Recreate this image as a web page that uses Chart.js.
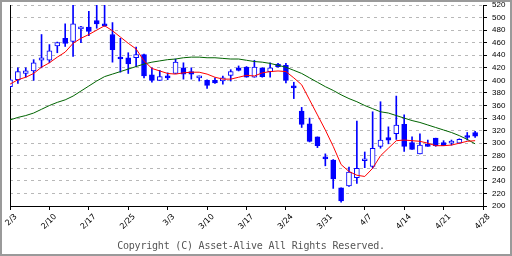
<!DOCTYPE html>
<html>
<head>
<meta charset="utf-8">
<script src="https://cdn.jsdelivr.net/npm/chart.js@4.4.1/dist/chart.umd.min.js"></script>
<style>
  html, body { margin: 0; padding: 0; background: #fff; }
  #wrap { position: relative; width: 512px; height: 256px; }
  #frame { position: absolute; left: 0; top: 0; width: 512px; height: 256px; box-sizing: border-box; border: 2px solid #9a9a9a; pointer-events: none; }
  #copy { position: absolute; left: 0; width: 502px; top: 240px; line-height: 12px; text-align: center; font: 10px "DejaVu Sans Mono", monospace; letter-spacing: -0.2px; color: #555; }
</style>
</head>
<body>
<div id="wrap">
  <canvas id="chart" width="512" height="256"></canvas>
  <div id="copy">Copyright (C) Asset-Alive All Rights Reserved.</div>
  <div id="frame"></div>
</div>
<script>
'use strict';

// weekly tick labels (one every 5 trading days)
const weekLabels = ['2/3', '2/10', '2/17', '2/25', '3/3', '3/10', '3/17', '3/24', '3/31', '4/7', '4/14', '4/21', '4/28'];

const opens = [
  390, 401, 411, 415, 432, 432, 455, 467, 462, 482,
  485, 495, 490, 473, 435, 436, 436, 441, 409, 400,
  407, 411, 420, 414, 404, 400, 400, 399, 408, 420,
  421, 405, 420, 414, 426, 424, 389, 351, 331, 310,
  276, 273, 229, 232, 245, 272, 263, 295, 309, 315,
  330, 301, 283, 297, 308, 301, 300, 300, 312, 317
];
const highs = [
  402, 420, 420, 433, 473, 457, 461, 490, 520, 486,
  510, 520, 520, 492, 467, 444, 453, 442, 420, 416,
  412, 434, 428, 420, 407, 401, 404, 407, 417, 423,
  422, 432, 420, 428, 427, 427, 397, 357, 340, 310,
  283, 274, 229, 262, 335, 286, 350, 366, 326, 375,
  345, 310, 315, 305, 308, 304, 305, 307, 317, 319
];
const lows = [
  388, 395, 405, 400, 420, 428, 444, 454, 438, 460,
  471, 483, 486, 429, 413, 411, 422, 404, 397, 400,
  401, 411, 402, 402, 399, 387, 395, 394, 399, 415,
  405, 405, 405, 405, 421, 396, 371, 325, 302, 293,
  264, 228, 206, 231, 236, 261, 260, 292, 299, 306,
  287, 290, 283, 295, 295, 296, 297, 300, 305, 309
];
const closes = [
  401, 414, 415, 428, 436, 447, 460, 459, 490, 485,
  478, 490, 487, 449, 434, 426, 441, 407, 400, 406,
  404, 429, 410, 410, 404, 392, 396, 404, 414, 416,
  405, 421, 406, 420, 422, 400, 388, 330, 303, 296,
  275, 243, 208, 254, 260, 273, 292, 305, 305, 329,
  295, 290, 297, 295, 296, 296, 300, 306, 309, 311
];

// moving averages
const shortAvg = [
  394, 401, 405, 411, 421, 428, 437, 445, 459, 467,
  473, 480, 487, 479, 469, 459, 450, 431, 419, 415,
  411, 410, 412, 413, 413, 410, 405, 402, 402, 405,
  408, 407, 412, 414, 415, 414, 404, 393, 369, 345,
  321, 295, 266, 255, 249, 247, 260, 280, 292, 304,
  305, 304, 303, 300, 296, 296, 297, 300, 303, 304
];
const longAvg = [
  337, 341, 344, 348, 354, 360, 365, 369, 375, 383,
  391, 399, 406, 410, 414, 418, 422, 426, 429, 431,
  433, 434, 436, 437, 437, 436, 436, 435, 434, 434,
  432, 430, 429, 427, 424, 421, 416, 411, 404, 397,
  390, 384, 377, 371, 366, 360, 355, 350, 348, 344,
  340, 336, 333, 329, 325, 321, 317, 312, 306, 299
];

const BLUE = '#0000ff';
const slotCount = (weekLabels.length - 1) * 5 + 1;
const slots = [];
for (let i = 0; i < slotCount; i++) slots.push(String(i));

const bodies = opens.map((o, i) => [o, closes[i]]);
const wicks = lows.map((l, i) => [l, highs[i]]);
const bodyFill = opens.map((o, i) => (closes[i] >= o ? '#ffffff' : BLUE));

const weekTick = ctx => (ctx.index % 5 === 0 ? '#000' : 'rgba(0,0,0,0)');

const ctx = document.getElementById('chart').getContext('2d');
const chart = new Chart(ctx, {
  type: 'bar',
  data: {
    labels: slots,
    datasets: [
      {
        type: 'line',
        data: shortAvg,
        borderColor: '#ff0000',
        borderWidth: 1,
        pointRadius: 0,
        tension: 0,
        yAxisID: 'y',
        order: 0,
      },
      {
        type: 'line',
        data: longAvg,
        borderColor: '#006400',
        borderWidth: 1,
        pointRadius: 0,
        tension: 0,
        yAxisID: 'y',
        order: 1,
      },
      {
        data: bodies,
        backgroundColor: bodyFill,
        borderColor: BLUE,
        borderWidth: 1,
        borderSkipped: false,
        barThickness: 5,
        minBarLength: 2,
        grouped: false,
        yAxisID: 'y',
        order: 2,
      },
      {
        data: wicks,
        backgroundColor: BLUE,
        borderWidth: 0,
        barThickness: 1,
        grouped: false,
        yAxisID: 'y',
        order: 3,
      },
    ],
  },
  options: {
    responsive: false,
    animation: false,
    events: [],
    layout: { padding: { left: 10, top: 5, right: 0, bottom: 0 } },
    plugins: { legend: { display: false }, tooltip: { enabled: false } },
    scales: {
      x: {
        type: 'category',
        offset: false,
        grid: {
          offset: false,
          drawOnChartArea: false,
          tickLength: 4,
          color: weekTick,
          tickColor: weekTick,
        },
        border: { display: true, color: '#000' },
        ticks: {
          autoSkip: false,
          minRotation: 45,
          maxRotation: 45,
          labelOffset: 6,
          padding: 2,
          color: '#000',
          font: { family: 'DejaVu Sans', size: 8 },
          callback: (v, i) => (i % 5 === 0 ? weekLabels[i / 5] : ''),
        },
        afterFit: s => { s.height = 50; s.paddingLeft = 0; s.paddingRight = 0; },
      },
      y: {
        position: 'right',
        min: 200,
        max: 520,
        ticks: {
          stepSize: 20,
          autoSkip: false,
          padding: 5,
          color: '#000',
          font: { family: 'Liberation Sans', size: 8 },
        },
        grid: { color: '#b8b8b8', tickColor: '#000', tickLength: 4 },
        border: { display: true, color: '#000', dash: [3, 4] },
        afterFit: s => { s.width = 29; s.paddingTop = 0; s.paddingBottom = 0; },
      },
      yl: {
        position: 'left',
        ticks: { display: false },
        grid: { drawOnChartArea: false, drawTicks: false },
        border: { display: true, color: '#000' },
        afterFit: s => { s.width = 0; },
      },
    },
  },
});
</script>
</body>
</html>
